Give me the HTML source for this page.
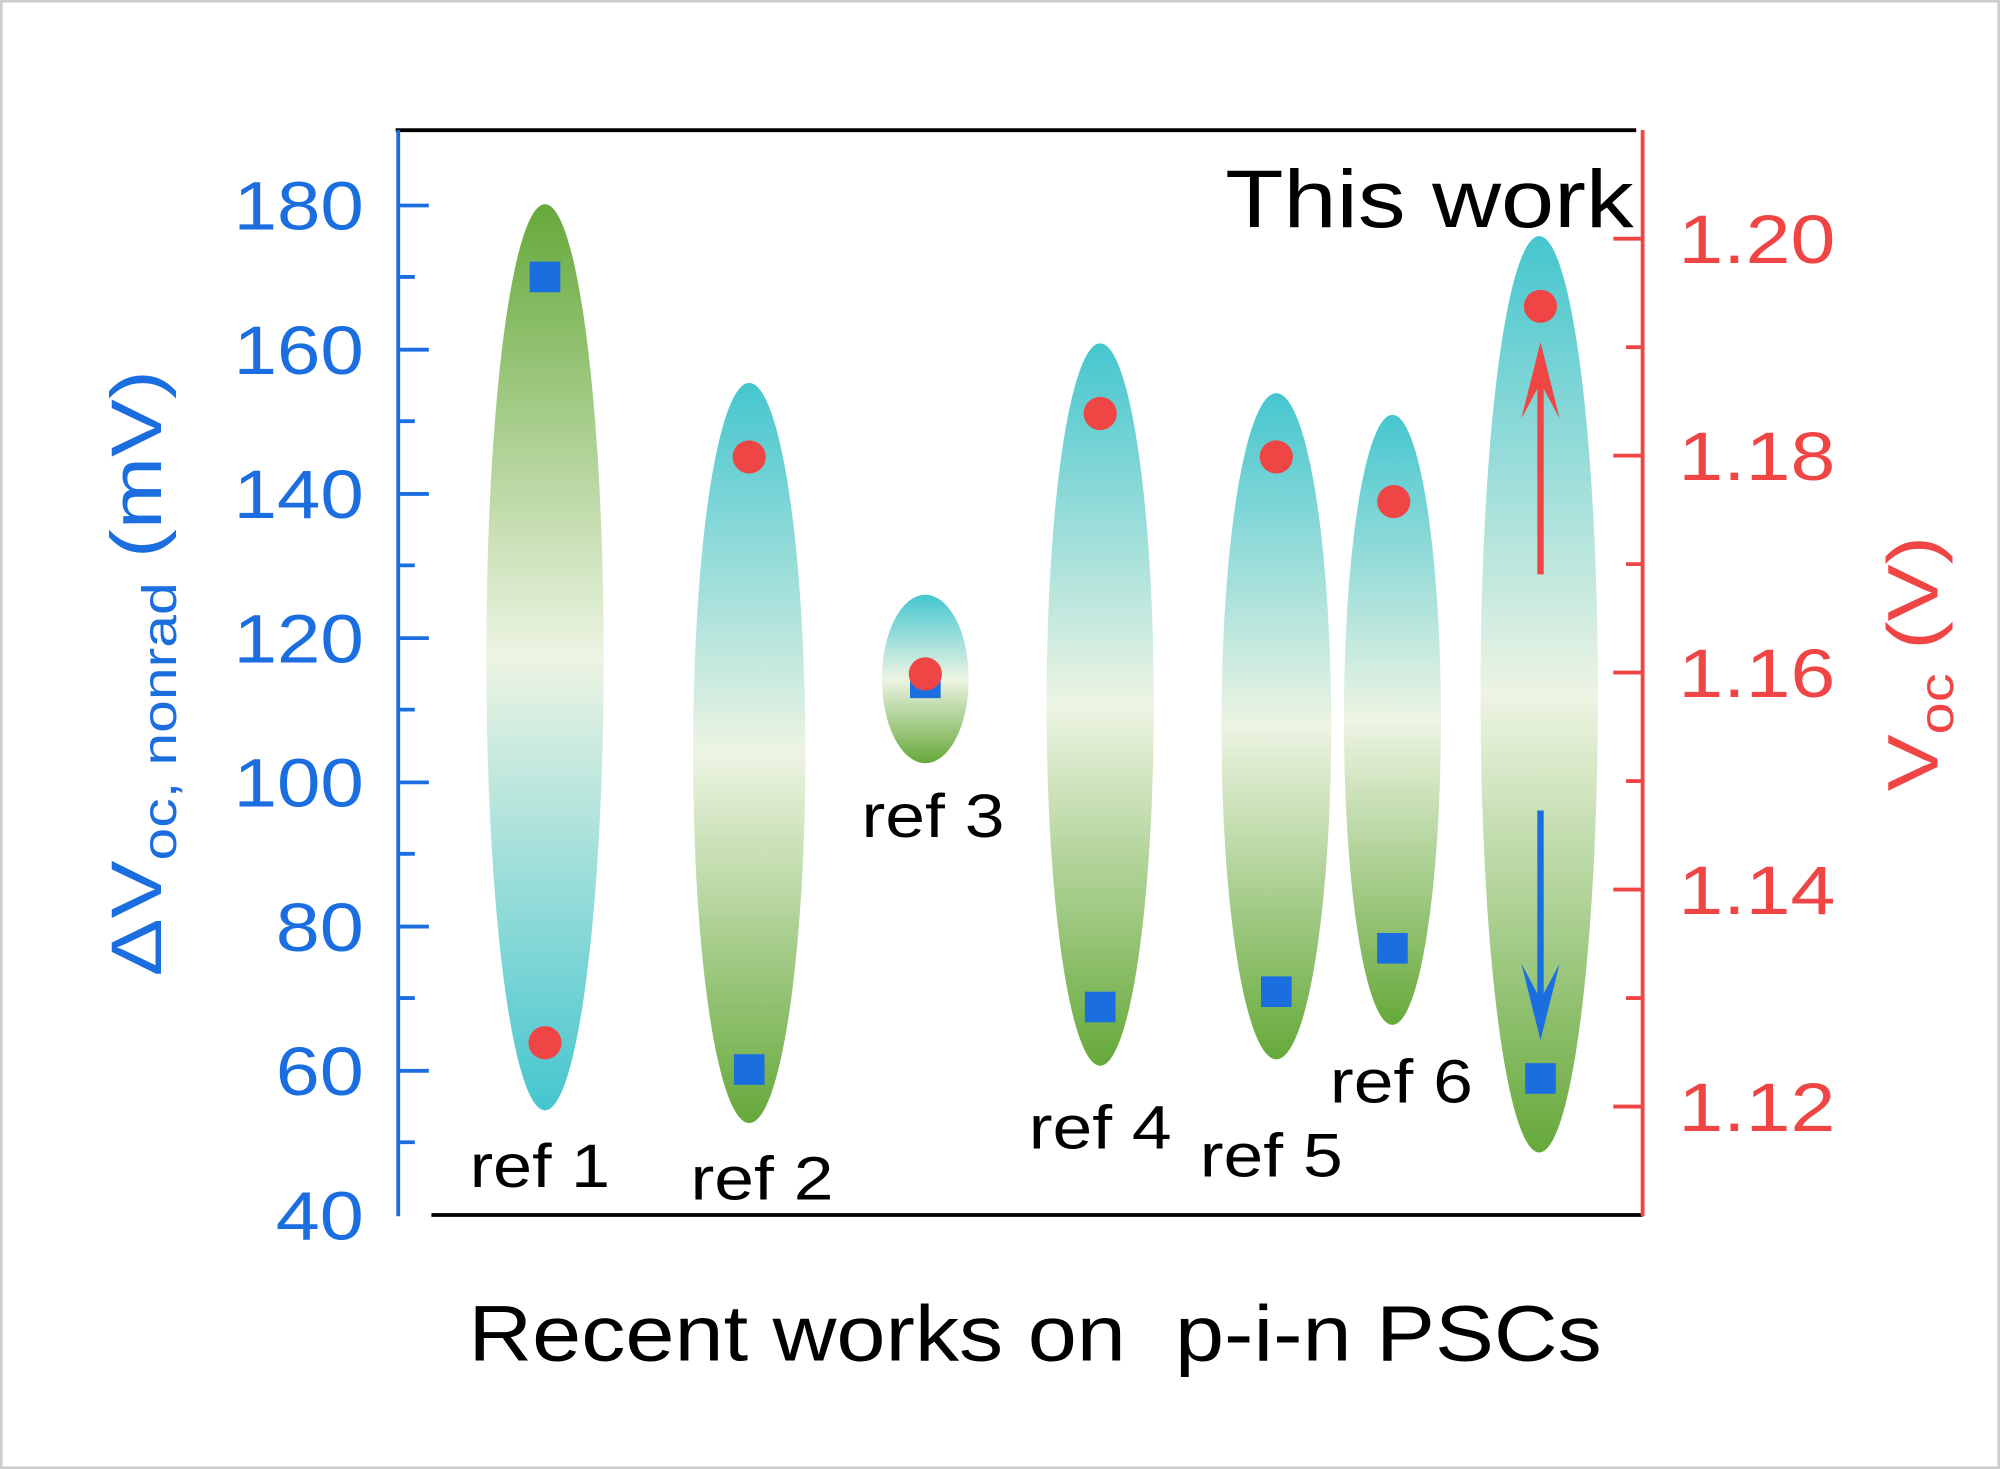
<!DOCTYPE html>
<html><head><meta charset="utf-8"><style>
html,body{margin:0;padding:0;background:#fff}
svg{display:block}
text{font-family:"Liberation Sans",sans-serif}
</style></head><body>
<svg width="2000" height="1469" viewBox="0 0 1567 1151" xmlns="http://www.w3.org/2000/svg">
<defs>
<linearGradient id="gc" x1="0" y1="0" x2="0" y2="1">
<stop offset="0" stop-color="#45c6cf"/><stop offset="0.5" stop-color="#edf4e3"/><stop offset="1" stop-color="#66a93a"/></linearGradient>
<linearGradient id="gg" x1="0" y1="0" x2="0" y2="1">
<stop offset="0" stop-color="#66a93a"/><stop offset="0.5" stop-color="#edf4e3"/><stop offset="1" stop-color="#45c6cf"/></linearGradient>
</defs>
<rect x="1" y="1" width="1565" height="1149" fill="#fff" stroke="#ccc" stroke-width="2"/>
<ellipse cx="427" cy="515" rx="46" ry="355" fill="url(#gg)"/>
<ellipse cx="587" cy="590" rx="44" ry="290" fill="url(#gc)"/>
<ellipse cx="725" cy="532" rx="34" ry="66" fill="url(#gc)"/>
<ellipse cx="862" cy="552" rx="42" ry="283" fill="url(#gc)"/>
<ellipse cx="1000" cy="569" rx="43" ry="261" fill="url(#gc)"/>
<ellipse cx="1091" cy="564" rx="38" ry="239" fill="url(#gc)"/>
<ellipse cx="1206" cy="544" rx="46" ry="359" fill="url(#gc)"/>
<g fill="#1a6ee0">
<rect x="415" y="205" width="24" height="24"/>
<rect x="575" y="826" width="24" height="24"/>
<rect x="713" y="523" width="24" height="24"/>
<rect x="850" y="777" width="24" height="24"/>
<rect x="988" y="765" width="24" height="24"/>
<rect x="1079" y="731" width="24" height="24"/>
<rect x="1195" y="833" width="24" height="24"/>
</g>
<g fill="#f04545">
<circle cx="427" cy="817" r="13"/>
<circle cx="587" cy="358" r="13"/>
<circle cx="725" cy="528" r="13"/>
<circle cx="862" cy="324" r="13"/>
<circle cx="1000" cy="358" r="13"/>
<circle cx="1092" cy="393" r="13"/>
<circle cx="1207" cy="240" r="13"/>
</g>
<line x1="1207" y1="450" x2="1207" y2="285" stroke="#f04545" stroke-width="5"/>
<polygon points="1207,268 1192,328 1207,300 1222,328" fill="#f04545"/>
<line x1="1207" y1="635" x2="1207" y2="800" stroke="#1a6ee0" stroke-width="5"/>
<polygon points="1207,815 1192,755 1207,783 1222,755" fill="#1a6ee0"/>
<line x1="310" y1="102" x2="1282" y2="102" stroke="#000" stroke-width="3"/>
<line x1="338" y1="952" x2="1287" y2="952" stroke="#000" stroke-width="3"/>
<line x1="312" y1="102" x2="312" y2="953" stroke="#1a6ee0" stroke-width="3"/>
<line x1="1287" y1="102" x2="1287" y2="953" stroke="#f04545" stroke-width="3"/>
<g stroke="#1a6ee0" stroke-width="3">
<line x1="312" y1="161" x2="336" y2="161"/><line x1="312" y1="274" x2="336" y2="274"/><line x1="312" y1="387" x2="336" y2="387"/><line x1="312" y1="500" x2="336" y2="500"/><line x1="312" y1="613" x2="336" y2="613"/><line x1="312" y1="726" x2="336" y2="726"/><line x1="312" y1="839" x2="336" y2="839"/>
<line x1="312" y1="217" x2="325" y2="217"/><line x1="312" y1="330" x2="325" y2="330"/><line x1="312" y1="443" x2="325" y2="443"/><line x1="312" y1="556" x2="325" y2="556"/><line x1="312" y1="669" x2="325" y2="669"/><line x1="312" y1="782" x2="325" y2="782"/><line x1="312" y1="895" x2="325" y2="895"/>
</g>
<g stroke="#f04545" stroke-width="3">
<line x1="1264" y1="187" x2="1287" y2="187"/><line x1="1264" y1="357" x2="1287" y2="357"/><line x1="1264" y1="527" x2="1287" y2="527"/><line x1="1264" y1="697" x2="1287" y2="697"/><line x1="1264" y1="867" x2="1287" y2="867"/>
<line x1="1274" y1="272" x2="1287" y2="272"/><line x1="1274" y1="442" x2="1287" y2="442"/><line x1="1274" y1="612" x2="1287" y2="612"/><line x1="1274" y1="782" x2="1287" y2="782"/>
</g>
<g fill="#1a6ee0" font-size="54">
<text x="183" y="180" textLength="102" lengthAdjust="spacingAndGlyphs">180</text>
<text x="183" y="293" textLength="102" lengthAdjust="spacingAndGlyphs">160</text>
<text x="183" y="406" textLength="102" lengthAdjust="spacingAndGlyphs">140</text>
<text x="183" y="519" textLength="102" lengthAdjust="spacingAndGlyphs">120</text>
<text x="183" y="632" textLength="102" lengthAdjust="spacingAndGlyphs">100</text>
<text x="216" y="745" textLength="69" lengthAdjust="spacingAndGlyphs">80</text>
<text x="216" y="858" textLength="69" lengthAdjust="spacingAndGlyphs">60</text>
<text x="216" y="971" textLength="69" lengthAdjust="spacingAndGlyphs">40</text>
</g>
<g fill="#f04545" font-size="54">
<text x="1315" y="206" textLength="123" lengthAdjust="spacingAndGlyphs">1.20</text>
<text x="1315" y="376" textLength="123" lengthAdjust="spacingAndGlyphs">1.18</text>
<text x="1315" y="546" textLength="123" lengthAdjust="spacingAndGlyphs">1.16</text>
<text x="1315" y="716" textLength="123" lengthAdjust="spacingAndGlyphs">1.14</text>
<text x="1315" y="886" textLength="123" lengthAdjust="spacingAndGlyphs">1.12</text>
</g>
<text transform="translate(126,765) rotate(-90)" fill="#1a6ee0" font-size="56" textLength="475" lengthAdjust="spacingAndGlyphs">ΔV<tspan font-size="38" dy="12">oc, nonrad</tspan><tspan dy="-12"> (mV)</tspan></text>
<text transform="translate(1518,620) rotate(-90)" fill="#f04545" font-size="56" textLength="200" lengthAdjust="spacingAndGlyphs">V<tspan font-size="38" dy="12">oc</tspan><tspan dy="-12"> (V)</tspan></text>
<g fill="#000" font-size="48">
<text x="368" y="930" textLength="110" lengthAdjust="spacingAndGlyphs">ref 1</text>
<text x="541" y="940" textLength="112" lengthAdjust="spacingAndGlyphs">ref 2</text>
<text x="675" y="656" textLength="112" lengthAdjust="spacingAndGlyphs">ref 3</text>
<text x="806" y="900" textLength="112" lengthAdjust="spacingAndGlyphs">ref 4</text>
<text x="940" y="922" textLength="112" lengthAdjust="spacingAndGlyphs">ref 5</text>
<text x="1042" y="864" textLength="112" lengthAdjust="spacingAndGlyphs">ref 6</text>
</g>
<text x="960" y="178" font-size="64" fill="#000" textLength="320" lengthAdjust="spacingAndGlyphs">This work</text>
<text x="367" y="1066" font-size="62" fill="#000" xml:space="preserve" textLength="888" lengthAdjust="spacingAndGlyphs">Recent works on  p-i-n PSCs</text>
</svg>
</body></html>
